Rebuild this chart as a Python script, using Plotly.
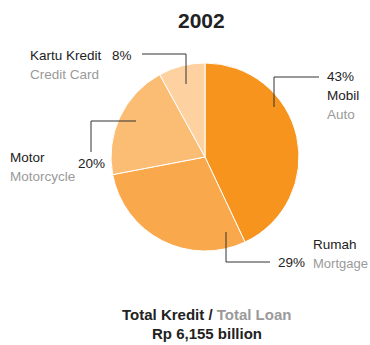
import plotly.graph_objects as go

# Consumer loan composition, 2002
labels_id = ["Mobil", "Rumah", "Motor", "Kartu Kredit"]
labels_en = ["Auto", "Mortgage", "Motorcycle", "Credit Card"]
shares = [43, 29, 20, 8]
colors = ["#F7941E", "#F9A84B", "#FBBC74", "#FDD1A0"]
title_text = "2002"
total_id = "Total Kredit"
total_en = "Total Loan"
total_value = "Rp 6,155 billion"

W, H = 370, 345
DARK = "#222222"
GREY = "#9a9a9a"
FONT = "Liberation Sans, Arial, Helvetica, sans-serif"
LABEL_SIZE = 13.5


def px(x):
    return x / W


def py(y):
    return 1 - y / H


# pie placed by centre and radius in pixels
cx, cy, r = 205, 157, 94

fig = go.Figure(go.Pie(
    labels=labels_id,
    values=shares,
    sort=False,
    direction="clockwise",
    rotation=0,
    marker=dict(colors=colors, line=dict(color="white", width=1)),
    textinfo="none",
    hoverinfo="label+percent",
    domain=dict(x=[px(cx - r), px(cx + r)], y=[py(cy + r), py(cy - r)]),
    showlegend=False,
))

# leader lines (pixel polylines) for each slice
leaders = {
    "Mobil": [(274, 107), (274, 77), (319, 77)],
    "Rumah": [(226, 232), (226, 262), (270, 262)],
    "Motor": [(136, 121), (91, 121), (91, 152)],
    "Kartu Kredit": [(186, 84), (186, 54), (142, 54)],
}

shapes = []
for name, pts in leaders.items():
    path = "M " + " L ".join(f"{px(x)},{py(y)}" for x, y in pts)
    shapes.append(dict(type="path", path=path, xref="paper", yref="paper",
                       line=dict(color="#333333", width=1)))

annotations = []


def add_text(text, x, y, color=DARK, size=LABEL_SIZE, anchor="left", bold=False):
    if bold:
        text = f"<b>{text}</b>"
    annotations.append(dict(text=text, x=px(x), y=py(y), xref="paper", yref="paper",
                            xanchor=anchor, yanchor="middle", showarrow=False,
                            font=dict(family=FONT, size=size, color=color)))


pct = {n: f"{v}%" for n, v in zip(labels_id, shares)}
eng = dict(zip(labels_id, labels_en))

# Mobil
add_text(pct["Mobil"], 325, 77)
add_text("Mobil", 325, 96)
add_text(eng["Mobil"], 325, 115, GREY)
# Rumah
add_text(pct["Rumah"], 276, 262)
add_text("Rumah", 311, 244)
add_text(eng["Rumah"], 311, 263, GREY, size=13)
# Motor
add_text(pct["Motor"], 76, 163)
add_text("Motor", 8, 158)
add_text(eng["Motor"], 8, 176, GREY)
# Kartu Kredit
add_text(pct["Kartu Kredit"], 110, 55)
add_text("Kartu Kredit", 28, 55)
add_text(eng["Kartu Kredit"], 28, 74, GREY)

# title and total
add_text(title_text, 201, 20, size=21, anchor="center", bold=True)
annotations.append(dict(
    text=f"<b>{total_id} / <span style='color:{GREY}'>{total_en}</span></b>",
    x=px(207), y=py(314), xref="paper", yref="paper", xanchor="center", yanchor="middle",
    showarrow=False, font=dict(family=FONT, size=15, color=DARK)))
add_text(total_value, 207, 333, size=15, anchor="center", bold=True)

fig.update_layout(
    width=W, height=H,
    margin=dict(l=0, r=0, t=0, b=0),
    paper_bgcolor="white",
    plot_bgcolor="white",
    shapes=shapes,
    annotations=annotations,
)

fig.write_html("out.html")
